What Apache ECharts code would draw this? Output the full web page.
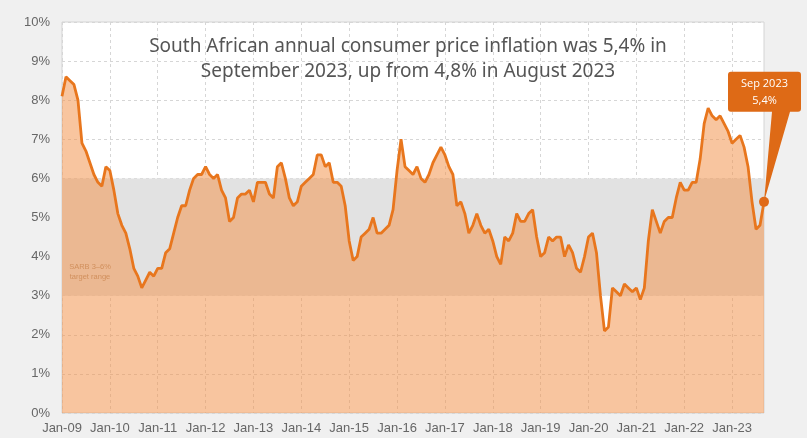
<!DOCTYPE html>
<html>
<head>
<meta charset="utf-8">
<script src="https://cdn.jsdelivr.net/npm/echarts@6/dist/echarts.min.js"></script>
<style>
html,body{margin:0;padding:0;background:#f0f0f0;}
#chart{width:807px;height:438px;}
</style>
</head>
<body>
<div id="chart"></div>
<script>
// ---- data (headline CPI, % y/y) ----
const monthNames = ['Jan','Feb','Mar','Apr','May','Jun','Jul','Aug','Sep','Oct','Nov','Dec'];
const years = ['09','10','11','12','13','14','15','16','17','18','19','20','21','22','23'];
const cpi2009 = [8.1, 8.6, 8.5, 8.4, 8.0, 6.9, 6.7, 6.4, 6.1, 5.9, 5.8, 6.3];
const cpi2010 = [6.2, 5.7, 5.1, 4.8, 4.6, 4.2, 3.7, 3.5, 3.2, 3.4, 3.6, 3.5];
const cpi2011 = [3.7, 3.7, 4.1, 4.2, 4.6, 5.0, 5.3, 5.3, 5.7, 6.0, 6.1, 6.1];
const cpi2012 = [6.3, 6.1, 6.0, 6.1, 5.7, 5.5, 4.9, 5.0, 5.5, 5.6, 5.6, 5.7];
const cpi2013 = [5.4, 5.9, 5.9, 5.9, 5.6, 5.5, 6.3, 6.4, 6.0, 5.5, 5.3, 5.4];
const cpi2014 = [5.8, 5.9, 6.0, 6.1, 6.6, 6.6, 6.3, 6.4, 5.9, 5.9, 5.8, 5.3];
const cpi2015 = [4.4, 3.9, 4.0, 4.5, 4.6, 4.7, 5.0, 4.6, 4.6, 4.7, 4.8, 5.2];
const cpi2016 = [6.2, 7.0, 6.3, 6.2, 6.1, 6.3, 6.0, 5.9, 6.1, 6.4, 6.6, 6.8];
const cpi2017 = [6.6, 6.3, 6.1, 5.3, 5.4, 5.1, 4.6, 4.8, 5.1, 4.8, 4.6, 4.7];
const cpi2018 = [4.4, 4.0, 3.8, 4.5, 4.4, 4.6, 5.1, 4.9, 4.9, 5.1, 5.2, 4.5];
const cpi2019 = [4.0, 4.1, 4.5, 4.4, 4.5, 4.5, 4.0, 4.3, 4.1, 3.7, 3.6, 4.0];
const cpi2020 = [4.5, 4.6, 4.1, 3.0, 2.1, 2.2, 3.2, 3.1, 3.0, 3.3, 3.2, 3.1];
const cpi2021 = [3.2, 2.9, 3.2, 4.4, 5.2, 4.9, 4.6, 4.9, 5.0, 5.0, 5.5, 5.9];
const cpi2022 = [5.7, 5.7, 5.9, 5.9, 6.5, 7.4, 7.8, 7.6, 7.5, 7.6, 7.4, 7.2];
const cpi2023 = [6.9, 7.0, 7.1, 6.8, 6.3, 5.4, 4.7, 4.8, 5.4];
const targetRange = [3, 6];
const yTicks = [0, 10, 1];

const cpiByYear = [cpi2009,cpi2010,cpi2011,cpi2012,cpi2013,cpi2014,cpi2015,cpi2016,cpi2017,cpi2018,cpi2019,cpi2020,cpi2021,cpi2022,cpi2023];
const categories = [];
const values = [];
cpiByYear.forEach((arr, yi) => {
  arr.forEach((v, mi) => {
    categories.push(monthNames[mi] + '-' + years[yi]);
    values.push(v);
  });
});
const lastIdx = values.length - 1;
const lastMonth = monthNames[cpi2023.length - 1];
const lastLabel = lastMonth + ' 20' + years[years.length - 1] + '\n' + String(values[lastIdx]).replace('.', ',') + '%';

const chart = echarts.init(document.getElementById('chart'), null, {renderer: 'canvas'});
const ORANGE = '#e8761d';
const option = {
  backgroundColor: '#f0f0f0',
  animation: false,
  title: {
    text: 'South African annual consumer price inflation was 5,4% in\nSeptember 2023, up from 4,8% in August 2023',
    left: 403,
    top: 29,
    textAlign: 'center',
    textStyle: {
      fontFamily: 'Noto Sans',
      fontSize: 19,
      fontWeight: 'normal',
      color: '#555555',
      lineHeight: 25
    }
  },
  grid: {
    left: 62, right: 43, top: 22, bottom: 25,
    show: true,
    backgroundColor: '#ffffff',
    borderColor: '#d4d4d4',
    borderWidth: 1
  },
  xAxis: {
    type: 'category',
    data: categories,
    boundaryGap: false,
    axisLine: {show: false},
    axisTick: {show: false},
    axisLabel: {
      interval: 11,
      margin: 9,
      color: '#666666',
      fontSize: 13,
      fontFamily: 'Liberation Sans'
    },
    splitLine: {
      show: true,
      interval: 11,
      lineStyle: {color: '#d6d6d6', type: [3, 3], width: 1}
    }
  },
  yAxis: {
    type: 'value',
    min: yTicks[0], max: yTicks[1], interval: yTicks[2],
    axisLine: {show: false},
    axisTick: {show: false},
    axisLabel: {
      formatter: '{value}%',
      margin: 12,
      color: '#666666',
      fontSize: 13,
      fontFamily: 'Liberation Sans'
    },
    splitLine: {
      show: true,
      lineStyle: {color: '#d6d6d6', type: [3, 3], width: 1}
    }
  },
  series: [
    {
      name: 'band',
      type: 'line',
      z: 1,
      silent: true,
      data: values,
      symbol: 'none',
      lineStyle: {opacity: 0},
      markArea: {
        silent: true,
        z: 1,
        itemStyle: {color: '#e2e2e2', opacity: 1},
        label: {
          show: true,
          position: [28, 94],
          align: 'center',
          verticalAlign: 'middle',
          formatter: 'SARB ' + targetRange[0] + '–' + targetRange[1] + '%\ntarget range',
          color: '#a8876a',
          fontSize: 7.5,
          lineHeight: 10,
          fontFamily: 'Liberation Sans'
        },
        data: [[{yAxis: targetRange[0]}, {yAxis: targetRange[1]}]]
      }
    },
    {
      name: 'CPI',
      type: 'line',
      z: 3,
      data: values,
      symbol: 'none',
      smooth: false,
      lineStyle: {color: ORANGE, width: 2.8},
      areaStyle: {color: 'rgba(243,150,80,0.55)', opacity: 1, origin: 'start'},
      markPoint: {
        silent: true,
        animation: false,
        data: [
          {
            coord: [categories[lastIdx], values[lastIdx]],
            symbol: 'path://M3,0 L70,0 Q73,0 73,3 L73,37 Q73,40 70,40 L62,40 L36,130 L44,40 L3,40 Q0,40 0,37 L0,3 Q0,0 3,0 Z',
            symbolSize: [73, 130],
            symbolOffset: [0.5, -65],
            itemStyle: {color: '#de6a16'},
            label: {
              show: true,
              position: 'inside',
              offset: [0, -45],
              formatter: lastLabel,
              color: '#ffffff',
              fontSize: 11,
              lineHeight: 17,
              fontFamily: 'Open Sans'
            }
          },
          {
            coord: [categories[lastIdx], values[lastIdx]],
            symbol: 'circle',
            symbolSize: 10,
            itemStyle: {color: '#e06a18'},
            label: {show: false}
          }
        ]
      }
    }
  ]
};
chart.setOption(option);
</script>
</body>
</html>
